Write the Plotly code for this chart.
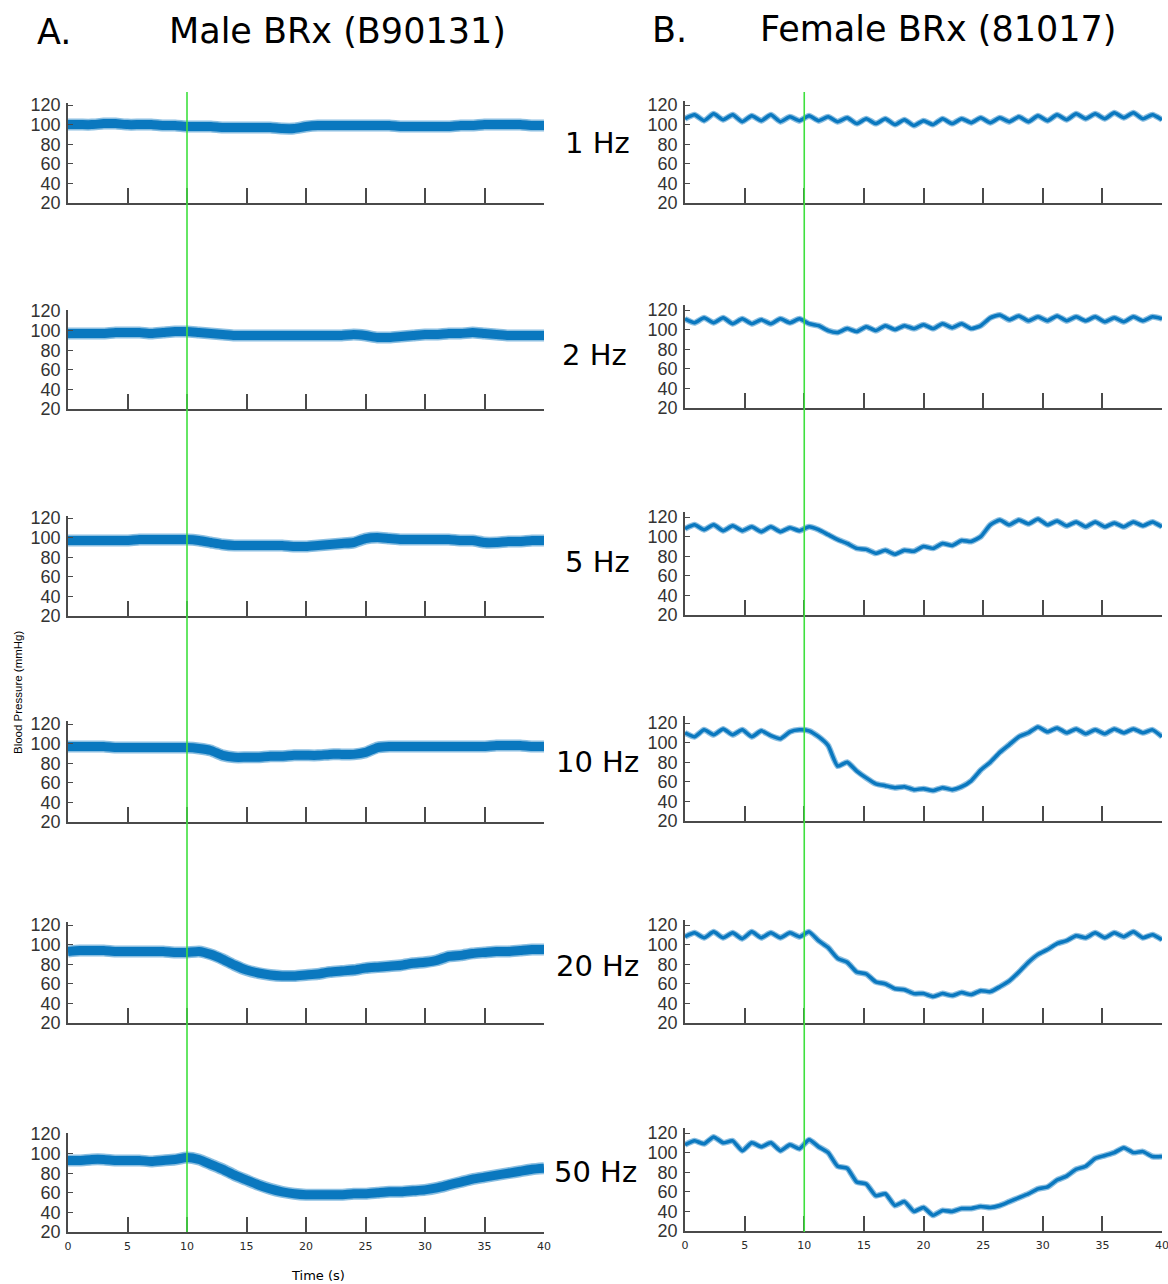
import numpy as np
import plotly.graph_objects as go

# ---------------------------------------------------------------------------
# Mean arterial pressure (mmHg) during baroreflex stimulation, stim on at 10 s
# ---------------------------------------------------------------------------
t_male = np.arange(0, 40.5, 1.0)       # 1 s sampling
t_female = np.arange(0, 40.01, 0.8)    # 0.8 s sampling

stim_labels = ["1 Hz", "2 Hz", "5 Hz", "10 Hz", "20 Hz", "50 Hz"]

male_1hz = [100, 100, 100, 101, 101, 100, 100, 100, 99, 99, 98, 98, 98, 97, 97, 97, 97, 97, 96, 96,
            98, 99, 99, 99, 99, 99, 99, 99, 98, 98, 98, 98, 98, 99, 99, 100, 100, 100, 100, 99, 99]
male_2hz = [97, 97, 97, 97, 98, 98, 98, 97, 98, 99, 99, 98, 97, 96, 95, 95, 95, 95, 95, 95,
            95, 95, 95, 95, 96, 95, 93, 93, 94, 95, 96, 96, 97, 97, 98, 97, 96, 95, 95, 95, 95]
male_5hz = [97, 97, 97, 97, 97, 97, 98, 98, 98, 98, 98, 97, 95, 93, 92, 92, 92, 92, 92, 91,
            91, 92, 93, 94, 95, 99, 100, 99, 98, 98, 98, 98, 98, 97, 97, 95, 95, 96, 96, 97, 97]
male_10hz = [97, 97, 97, 97, 96, 96, 96, 96, 96, 96, 96, 95, 93, 88, 86, 86, 86, 87, 87, 88,
             88, 88, 89, 89, 89, 91, 96, 97, 97, 97, 97, 97, 97, 97, 97, 97, 98, 98, 98, 97, 97]
male_20hz = [93, 94, 94, 94, 93, 93, 93, 93, 93, 92, 92, 93, 90, 85, 79, 74, 71, 69, 68, 68,
             69, 70, 72, 73, 74, 76, 77, 78, 79, 81, 82, 84, 88, 89, 91, 92, 93, 93, 94, 95, 95]
male_50hz = [93, 93, 94, 94, 93, 93, 93, 92, 93, 94, 96, 94, 89, 84, 78, 73, 68, 64, 61, 59,
             58, 58, 58, 58, 59, 59, 60, 61, 61, 62, 63, 65, 68, 71, 74, 76, 78, 80, 82, 84, 85]

female_1hz = [106, 110, 104, 111, 105, 110, 103, 109, 104, 110, 103, 108, 104, 109, 104, 108, 103,
              107, 101, 106, 101, 106, 100, 105, 99, 104, 100, 106, 101, 106, 102, 107, 102, 107,
              103, 108, 103, 109, 104, 110, 105, 111, 106, 111, 106, 112, 107, 112, 106, 110, 105]
female_2hz = [111, 107, 112, 107, 112, 106, 111, 106, 110, 106, 111, 107, 111, 106, 104, 99, 97,
              101, 98, 103, 99, 104, 100, 104, 101, 105, 101, 106, 102, 106, 101, 104, 112, 115,
              110, 114, 109, 113, 109, 114, 109, 113, 109, 113, 108, 112, 108, 113, 109, 113, 111]
female_5hz = [108, 112, 107, 112, 106, 111, 106, 110, 105, 110, 105, 109, 106, 110, 107, 102, 97,
              93, 88, 87, 83, 86, 82, 86, 85, 90, 88, 93, 91, 96, 95, 100, 112, 117, 112, 117,
              113, 118, 112, 116, 111, 115, 110, 115, 110, 114, 110, 115, 111, 115, 110]
female_10hz = [110, 106, 113, 108, 114, 108, 113, 106, 112, 107, 104, 111, 113, 112, 106, 97, 76,
               80, 71, 64, 58, 56, 54, 55, 52, 53, 51, 54, 52, 55, 61, 72, 80, 90, 98, 106, 110,
               116, 111, 115, 110, 114, 109, 113, 109, 114, 110, 114, 110, 113, 106]
female_20hz = [108, 112, 107, 113, 107, 112, 106, 113, 107, 112, 107, 112, 108, 113, 104, 97, 86,
               82, 72, 70, 62, 60, 55, 54, 50, 50, 47, 50, 48, 51, 49, 53, 52, 57, 63, 72, 82,
               90, 95, 101, 104, 109, 107, 112, 107, 112, 108, 113, 107, 110, 105]
female_50hz = [108, 112, 109, 116, 110, 112, 102, 110, 106, 110, 102, 108, 104, 113, 106, 100, 86,
               84, 70, 68, 56, 58, 46, 50, 40, 44, 36, 41, 40, 43, 43, 45, 44, 46, 50, 54, 58,
               63, 65, 72, 76, 83, 86, 94, 97, 100, 105, 100, 101, 96, 96]

male_series = [male_1hz, male_2hz, male_5hz, male_10hz, male_20hz, male_50hz]
female_series = [female_1hz, female_2hz, female_5hz, female_10hz, female_20hz, female_50hz]

# ---------------------------------------------------------------------------
# Page geometry (pixels) for the 2 x 6 grid of panels
# ---------------------------------------------------------------------------
W, H = 1168, 1284


def fx(x):
    return x / W


def fy(y):
    return 1 - y / H


LEFT_X = (68, 544)
RIGHT_X = (685, 1162)
LEFT_ROWS = [(103, 203), (310, 409), (516, 616), (721, 822), (922, 1023), (1133, 1232)]
RIGHT_ROWS = [(101, 203), (305, 408), (512, 615), (716, 821), (920, 1023), (1128, 1231)]
HZ_POS = [(597, 143), (594, 355), (597, 562), (597, 762), (597, 966), (595, 1172)]

TRACE_BLUE = "#0072BD"
AXIS_GREY = "#4a4a4a"
STIM_GREEN = "#3ee03e"

fig = go.Figure()
layout = dict(
    width=W, height=H,
    margin=dict(l=0, r=0, t=0, b=0, pad=0, autoexpand=False),
    paper_bgcolor="white", plot_bgcolor="white",
    showlegend=False,
    annotations=[], shapes=[],
)

# (x-domain px, y-domain px, time, values, halo width, core width, show x labels)
panels = []
for i in range(6):
    panels.append((LEFT_X, LEFT_ROWS[i], t_male, male_series[i], 12, 9, i == 5))
for i in range(6):
    panels.append((RIGHT_X, RIGHT_ROWS[i], t_female, female_series[i], 6, 3.5, i == 5))

for k, (xd, yd, t, vals, halo_w, core_w, bottom) in enumerate(panels):
    n = k + 1
    xa = "x" if n == 1 else f"x{n}"
    ya = "y" if n == 1 else f"y{n}"
    top_px, bot_px = yd
    y_top_val = 20 + (bot_px - top_px) / 0.98

    # soft outer band, then the solid core of the trace
    fig.add_trace(go.Scatter(
        x=t, y=vals, mode="lines", xaxis=xa, yaxis=ya,
        line=dict(color=TRACE_BLUE, width=halo_w, shape="spline", smoothing=0.5),
        opacity=0.45, hoverinfo="skip",
    ))
    fig.add_trace(go.Scatter(
        x=t, y=vals, mode="lines", xaxis=xa, yaxis=ya,
        line=dict(color=TRACE_BLUE, width=core_w, shape="spline", smoothing=0.5),
        opacity=0.92, hoverinfo="skip",
    ))

    layout["xaxis" if n == 1 else f"xaxis{n}"] = dict(
        domain=[fx(xd[0]), fx(xd[1])], anchor=ya, range=[0, 40],
        showgrid=False, zeroline=False,
        showline=True, linecolor=AXIS_GREY, linewidth=1.6,
        tickmode="array", tickvals=[0, 5, 10, 15, 20, 25, 30, 35, 40],
        ticks="", showticklabels=bottom,
        tickfont=dict(family="DejaVu Sans", size=11, color="#2a2a2a"),
        ticklabelstandoff=3, ticklabeloverflow="allow",
        minor=dict(tickmode="array", tickvals=[5, 10, 15, 20, 25, 30, 35],
                   ticks="inside", ticklen=15, tickwidth=1.5, tickcolor=AXIS_GREY,
                   showgrid=False),
        fixedrange=True, automargin=False,
    )
    layout["yaxis" if n == 1 else f"yaxis{n}"] = dict(
        domain=[fy(bot_px), fy(top_px)], anchor=xa, range=[20, y_top_val],
        showgrid=False, zeroline=False,
        showline=True, linecolor=AXIS_GREY, linewidth=1.6,
        tickmode="array", tickvals=[20, 40, 60, 80, 100, 120],
        ticks="inside", ticklen=5, tickwidth=1.2, tickcolor=AXIS_GREY,
        tickfont=dict(family="Liberation Sans", size=18, color="#333333"),
        ticklabelstandoff=2, ticklabeloverflow="allow",
        fixedrange=True, automargin=False,
    )

# stimulation onset marker at t = 10 s through each column
for xa in ("x", "x7"):
    layout["shapes"].append(dict(
        type="line", xref=xa, yref="paper", x0=10, x1=10,
        y0=fy(1232), y1=fy(92), line=dict(color=STIM_GREEN, width=1.6), layer="above",
    ))

ann = layout["annotations"]
title_font = dict(family="DejaVu Sans", size=35, color="black")
ann.append(dict(text="A.", x=fx(54), y=fy(32), xref="paper", yref="paper",
                showarrow=False, font=title_font, xanchor="center", yanchor="middle"))
ann.append(dict(text="Male BRx (B90131)", x=fx(337), y=fy(31), xref="paper", yref="paper",
                showarrow=False, font=title_font, xanchor="center", yanchor="middle"))
ann.append(dict(text="B.", x=fx(669), y=fy(30), xref="paper", yref="paper",
                showarrow=False, font=title_font, xanchor="center", yanchor="middle"))
ann.append(dict(text="Female BRx (81017)", x=fx(938), y=fy(29), xref="paper", yref="paper",
                showarrow=False, font=title_font, xanchor="center", yanchor="middle"))

for label, (hx, hy) in zip(stim_labels, HZ_POS):
    ann.append(dict(text=label, x=fx(hx), y=fy(hy), xref="paper", yref="paper",
                    showarrow=False, xanchor="center", yanchor="middle",
                    font=dict(family="DejaVu Sans", size=29, color="black")))

ann.append(dict(text="Blood Pressure (mmHg)", x=fx(18), y=fy(692), xref="paper", yref="paper",
                showarrow=False, textangle=-90, xanchor="center", yanchor="middle",
                font=dict(family="Liberation Sans", size=11.5, color="black")))
ann.append(dict(text="Time (s)", x=fx(318), y=fy(1275), xref="paper", yref="paper",
                showarrow=False, xanchor="center", yanchor="middle",
                font=dict(family="DejaVu Sans", size=13, color="black")))

fig.update_layout(**layout)
# page body without the default margin so the figure fills the window exactly
fig.write_html("out.html", post_script="document.body.style.margin='0px';")
